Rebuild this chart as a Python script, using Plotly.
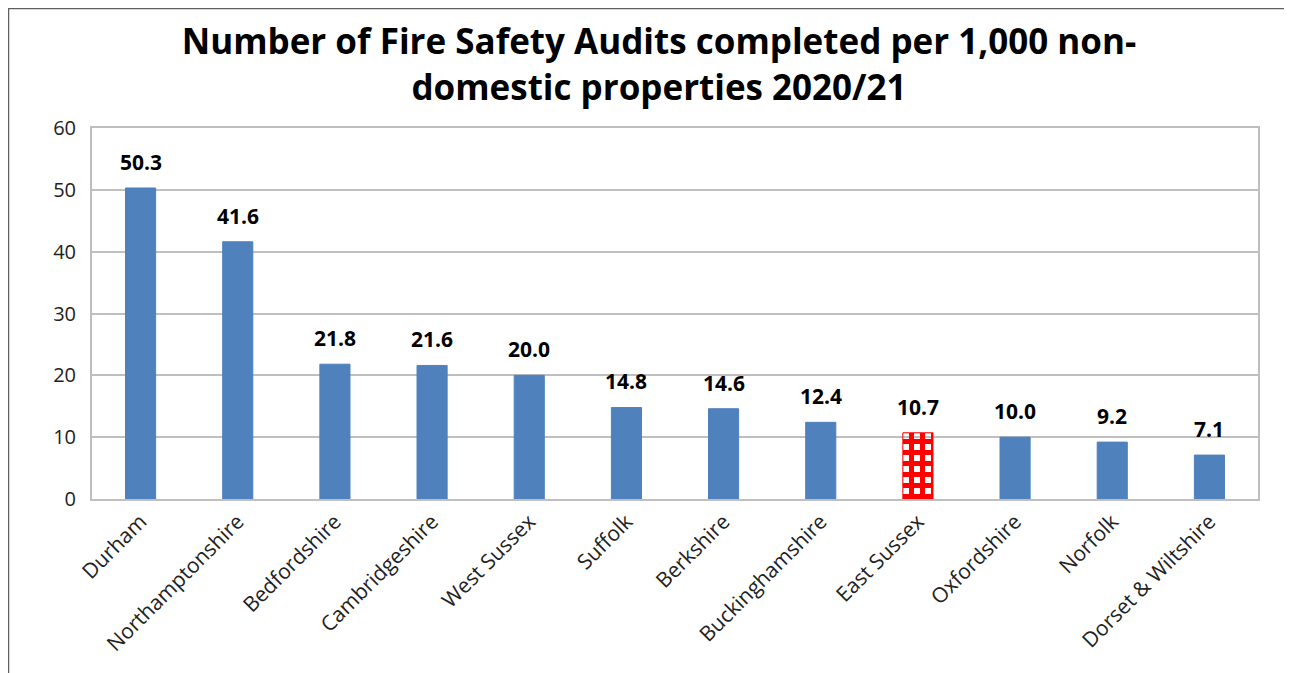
import plotly.graph_objects as go

categories = ["Durham", "Northamptonshire", "Bedfordshire", "Cambridgeshire", "West Sussex",
              "Suffolk", "Berkshire", "Buckinghamshire", "East Sussex", "Oxfordshire",
              "Norfolk", "Dorset & Wiltshire"]
values = [50.3, 41.6, 21.8, 21.6, 20.0, 14.8, 14.6, 12.4, 10.7, 10.0, 9.2, 7.1]
highlight = "East Sussex"
y_ticks = [0, 10, 20, 30, 40, 50, 60]

BLUE = "#4F81BD"
RED = "#FF0000"

is_hl = [c == highlight for c in categories]
fig = go.Figure(go.Bar(
    x=categories, y=values,
    marker=dict(
        color=[RED if h else BLUE for h in is_hl],
        line=dict(color=[RED if h else BLUE for h in is_hl], width=1),
        pattern=dict(
            shape=["+" if h else "" for h in is_hl],
            fgcolor=[RED if h else BLUE for h in is_hl],
            bgcolor=["white" if h else BLUE for h in is_hl],
            size=11, solidity=0.7, fillmode="replace",
        ),
    ),
    hoverinfo="x+y",
))

# page offset: browser body margin is 8px
W, H = 1284, 665
L, R, T, B = 84, 34, 120, 174
pw, ph = W - L - R, H - T - B

annotations = [
    dict(x=c, y=v, xref="x", yref="y", text=f"<b>{v:.1f}</b>", showarrow=False,
         yanchor="middle", yshift=26,
         font=dict(family="Open Sans", size=21, color="black"))
    for c, v in zip(categories, values)
]

fig.update_layout(
    width=W, height=H,
    margin=dict(l=L, r=R, t=T, b=B, autoexpand=False),
    paper_bgcolor="white", plot_bgcolor="white",
    bargap=0.69,
    showlegend=False,
    title=dict(
        text="Number of Fire Safety Audits completed per 1,000 non-<br>domestic properties 2020/21",
        x=651 / W, xanchor="center", y=1 - 46 / H, yanchor="middle",
        font=dict(family="Open Sans", size=35, color="black", weight="bold"),
    ),
    font=dict(family="Open Sans", color="#222"),
    xaxis=dict(
        tickangle=-45, tickfont=dict(size=21, color="#222"),
        showline=True, linecolor="#BFBFBF", linewidth=2, mirror=True,
        ticks="", showgrid=False, automargin=False,
    ),
    yaxis=dict(
        range=[0, 60], tickvals=y_ticks, ticktext=[str(t) for t in y_ticks],
        tickfont=dict(size=20, color="#222"),
        showgrid=True, gridcolor="#BFBFBF", gridwidth=2,
        showline=True, linecolor="#BFBFBF", linewidth=2, mirror=True,
        ticks="", zeroline=False, ticklabelstandoff=10, automargin=False,
    ),
    annotations=annotations,
    shapes=[dict(
        type="rect", xref="paper", yref="paper",
        x0=(0 - L) / pw, x1=(1282 - L) / pw,
        y0=(ph - (H + 20 - T)) / ph, y1=(H - B - 0) / ph,
        line=dict(color="#606060", width=2.5), fillcolor="rgba(0,0,0,0)", layer="below",
    )],
)

fig.write_html("out.html")
